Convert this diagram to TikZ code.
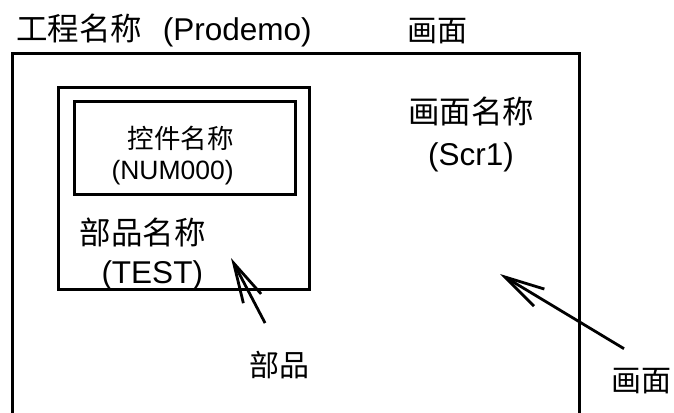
\documentclass[tikz,border=0pt]{standalone}
\usepackage{fontspec}
\setmainfont{Liberation Sans}
\newfontfamily\cjk{Noto Sans CJK SC}
\usetikzlibrary{arrows.meta, positioning}

\begin{document}
\begin{tikzpicture}[
    x=1pt, y=-1pt, line width=3pt,
    box/.style     ={rectangle, draw, anchor=north west, inner sep=0pt, outer sep=0pt},
    lbl/.style     ={font=\fontsize{30}{40}\selectfont, align=center, inner sep=0pt},
    bigtitle/.style={lbl, font=\fontsize{31.5}{40}\selectfont},
    pointer/.style ={-{Straight Barb[length=40pt, width=20pt]}, line width=2.8pt},
]
\useasboundingbox (0,0) rectangle (674,412);
% frames
\node[box, minimum width=567pt, minimum height=420pt] (screen) at (12,54) {};
\node[box, minimum width=251pt, minimum height=202pt] (part)   at (58,87) {};
\node[box, minimum width=221pt, minimum height=93pt]  (ctrl)   at (74,101) {};
% labels
\node[bigtitle] (proj)   at (164,30) {{\cjk 工程名称}\hspace{0.65em}(Prodemo)};
\node[lbl]      (scrtop) at (437,31) {\cjk 画面};
\node[bigtitle, font=\fontsize{31.5}{42}\selectfont] (scrname) at (471,134) {{\cjk 画面名称}\\(Scr1)};
\node[bigtitle, font=\fontsize{31.5}{39}\selectfont, align=left, anchor=west] (partname) at (78,254)
    {{\cjk 部品名称}\\\hspace{22pt}(TEST)};
\node[lbl, font=\fontsize{26.5}{31}\selectfont, align=left, anchor=west] (ctrlname) at (110,156)
    {\hspace{16pt}{\cjk 控件名称}\\(NUM000)};
\node[lbl] (partlbl) at (279,365) {\cjk 部品};
\node[lbl] (scrlbl)  at (641,381) {\cjk 画面};
\coordinate (parttip) at (231,258);
\coordinate (scrtip)  at (500,274);
% pointers
\draw[pointer, shorten <=30pt] (partlbl.north) -- (parttip);
\draw[pointer] ([shift={(-17,-18)}]scrlbl.north) -- (scrtip);
\end{tikzpicture}
\end{document}
